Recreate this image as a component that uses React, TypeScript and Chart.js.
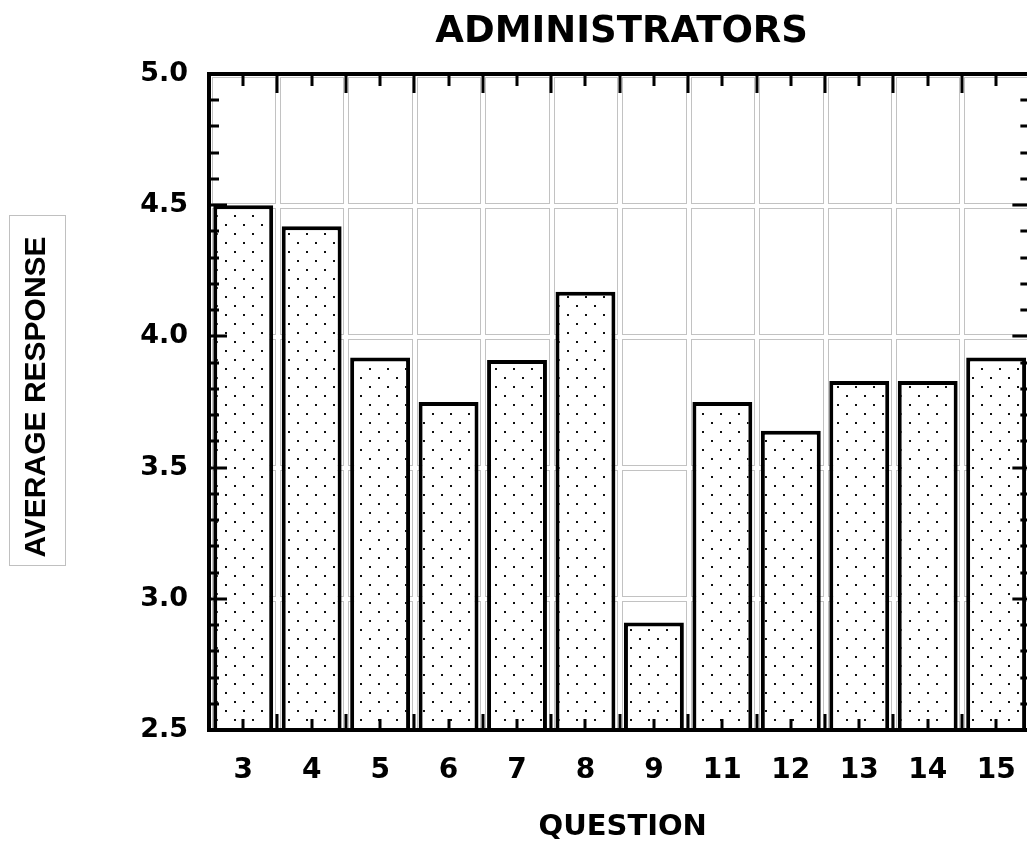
import { useEffect, useRef } from 'react';
import { Chart, registerables } from 'chart.js';

Chart.register(...registerables);

const categories = ['3', '4', '5', '6', '7', '8', '9', '11', '12', '13', '14', '15'];
const averageResponse = [4.5, 4.42, 3.92, 3.75, 3.91, 4.17, 2.91, 3.75, 3.64, 3.83, 3.83, 3.92];
const yMajorTicks = [2.5, 3.0, 3.5, 4.0, 4.5, 5.0];
const chartTitle = 'ADMINISTRATORS';
const xTitle = 'QUESTION';
const yTitle = 'AVERAGE RESPONSE';

const CANVAS_W = 1040;
const CANVAS_H = 841;

function makePattern(): CanvasPattern | string {
  const c = document.createElement('canvas');
  c.width = 18;
  c.height = 18;
  const g = c.getContext('2d');
  if (!g) return '#ffffff';
  g.fillStyle = '#ffffff';
  g.fillRect(0, 0, 18, 18);
  g.fillStyle = '#111111';
  g.fillRect(9, 8, 2, 2);
  g.fillRect(0, 17, 2, 1);
  g.fillRect(0, 0, 2, 1);
  const p = g.createPattern(c, 'repeat');
  return p || '#ffffff';
}

const framePlugin = {
  id: 'frame',
  beforeDatasetsDraw(chart: any) {
    const { ctx, chartArea: a, scales } = chart;
    const x = scales.x;
    const y = scales.y;
    const n = categories.length;
    const w = (a.right - a.left) / n;
    ctx.save();
    ctx.strokeStyle = '#c2c2c2';
    ctx.lineWidth = 1;
    for (let i = 0; i < n; i++) {
      const cx = x.getPixelForValue(i);
      const x0 = Math.round(cx - w / 2 + 2.5);
      const x1 = Math.round(cx + w / 2 - 2.5);
      for (let j = 0; j < yMajorTicks.length - 1; j++) {
        const yb = y.getPixelForValue(yMajorTicks[j]);
        const yt = y.getPixelForValue(yMajorTicks[j + 1]);
        const y0 = Math.round(yt + 2.5);
        const y1 = Math.round(yb - 2.5);
        ctx.strokeRect(x0 + 0.5, y0 + 0.5, x1 - x0, y1 - y0);
      }
    }
    ctx.restore();
  },
  afterDatasetsDraw(chart: any) {
    const { ctx, chartArea: a, scales } = chart;
    const x = scales.x;
    const y = scales.y;
    const n = categories.length;
    const w = (a.right - a.left) / n;
    ctx.save();
    ctx.fillStyle = '#000000';
    // frame lines (4px)
    ctx.fillRect(a.left - 2, a.top - 2, a.right - a.left + 4, 4);
    ctx.fillRect(a.left - 2, a.bottom - 2, a.right - a.left + 4, 4);
    ctx.fillRect(a.left - 2, a.top - 2, 4, a.bottom - a.top + 4);
    ctx.fillRect(a.right - 2, a.top - 2, 4, a.bottom - a.top + 4);
    // vertical ticks (left and right)
    const lo = yMajorTicks[0];
    const hi = yMajorTicks[yMajorTicks.length - 1];
    const steps = Math.round((hi - lo) * 10);
    for (let k = 0; k <= steps; k++) {
      const v = lo + k / 10;
      const py = Math.round(y.getPixelForValue(v));
      const major = k % 5 === 0;
      const len = major ? 18 : 10;
      ctx.fillRect(a.left, py - 1.5, len, 3);
      ctx.fillRect(a.right - len, py - 1.5, len, 3);
    }
    // horizontal ticks (top and bottom)
    for (let i = 0; i < n; i++) {
      const cx = x.getPixelForValue(i);
      ctx.fillRect(Math.round(cx) - 1.5, a.top, 3, 12);
      ctx.fillRect(Math.round(cx) - 1.5, a.bottom - 11, 3, 11);
      if (i > 0) {
        const bx = Math.round(cx - w / 2);
        ctx.fillRect(bx - 1.5, a.top, 3, 19);
        ctx.fillRect(bx - 1.5, a.bottom - 16, 3, 16);
      }
    }
    ctx.restore();
  },
  afterDraw(chart: any) {
    const { ctx, chartArea: a } = chart;
    ctx.save();
    ctx.fillStyle = '#000000';
    ctx.textAlign = 'center';
    ctx.textBaseline = 'alphabetic';
    ctx.font = 'bold 37px "DejaVu Sans"';
    ctx.fillText(chartTitle, (a.left + a.right) / 2 + 2, 42);
    ctx.font = 'bold 29px "DejaVu Sans"';
    ctx.fillText(xTitle, (a.left + a.right) / 2 + 3, 835);
    // y axis title box
    ctx.strokeStyle = '#c0c0c0';
    ctx.lineWidth = 1;
    ctx.strokeRect(9.5, 215.5, 56, 350);
    ctx.translate(45, 397);
    ctx.rotate(-Math.PI / 2);
    ctx.font = 'bold 30px "Liberation Sans"';
    ctx.fillText(yTitle, 0, 0);
    ctx.restore();
  },
};

export default function App() {
  const ref = useRef<HTMLCanvasElement | null>(null);

  useEffect(() => {
    document.body.style.margin = '0';
    document.body.style.overflow = 'hidden';
    document.documentElement.style.overflow = 'hidden';
    const canvas = ref.current;
    if (!canvas) return;
    const pattern = makePattern();
    const chart = new Chart(canvas, {
      type: 'bar',
      data: {
        labels: categories,
        datasets: [
          {
            data: averageResponse,
            backgroundColor: pattern as any,
            borderColor: '#000000',
            borderWidth: { top: 4, left: 4, right: 4, bottom: 0 },
            borderSkipped: 'bottom',
            barPercentage: 0.875,
            categoryPercentage: 1,
          },
        ],
      },
      options: {
        responsive: false,
        maintainAspectRatio: false,
        animation: false,
        devicePixelRatio: 1,
        layout: { padding: { top: 74, right: CANVAS_W - 1031, left: 0, bottom: 0 } },
        plugins: {
          legend: { display: false },
          title: { display: false },
          tooltip: { enabled: false },
        },
        scales: {
          x: {
            type: 'category',
            grid: { display: false, drawTicks: false },
            border: { display: false },
            ticks: {
              color: '#000000',
              font: { family: '"DejaVu Sans"', size: 28, weight: 'bold' },
              padding: 24,
              maxRotation: 0,
              autoSkip: false,
            },
            afterFit(scale: any) {
              scale.height = CANVAS_H - 730;
            },
          },
          y: {
            type: 'linear',
            min: 2.5,
            max: 5.0,
            grid: { display: false, drawTicks: false },
            border: { display: false },
            ticks: {
              stepSize: 0.5,
              color: '#000000',
              font: { family: '"DejaVu Sans"', size: 27, weight: 'bold' },
              padding: 21,
              callback: (v: any) => Number(v).toFixed(1),
            },
            afterFit(scale: any) {
              scale.width = 209;
            },
          },
        },
      },
      plugins: [framePlugin],
    });
    return () => chart.destroy();
  }, []);

  return (
    <div style={{ width: CANVAS_W, height: CANVAS_H, overflow: 'hidden', background: '#ffffff' }}>
      <canvas ref={ref} width={CANVAS_W} height={CANVAS_H} style={{ width: CANVAS_W, height: CANVAS_H, display: 'block' }} />
    </div>
  );
}
